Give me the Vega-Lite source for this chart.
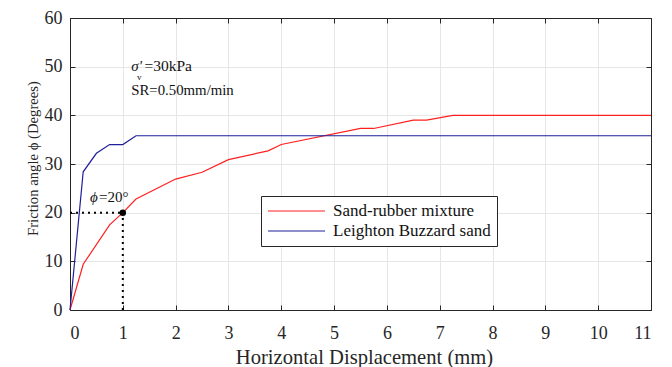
{
  "$schema": "https://vega.github.io/schema/vega-lite/v6.json",
  "width": 581,
  "height": 292,
  "autosize": {"type": "none"},
  "padding": {"left": 70, "top": 18, "right": 21, "bottom": 57},
  "background": "white",
  "config": {
    "font": "Liberation Serif",
    "view": {"stroke": "#262626", "strokeWidth": 1},
    "axis": {
      "domainColor": "#262626",
      "tickColor": "#262626",
      "labelColor": "#262626",
      "titleColor": "#262626",
      "gridColor": "#e6e6e6",
      "gridWidth": 1,
      "labelFont": "Liberation Serif",
      "titleFont": "Liberation Serif",
      "titleFontWeight": "normal",
      "labelFontSize": 18
    }
  },
  "datasets": {
    "curves": [
      {"disp": 0, "phi": 0, "series": "Sand-rubber mixture"},
      {"disp": 0.25, "phi": 9.4, "series": "Sand-rubber mixture"},
      {"disp": 0.75, "phi": 17.5, "series": "Sand-rubber mixture"},
      {"disp": 1, "phi": 20, "series": "Sand-rubber mixture"},
      {"disp": 1.25, "phi": 22.8, "series": "Sand-rubber mixture"},
      {"disp": 2, "phi": 26.9, "series": "Sand-rubber mixture"},
      {"disp": 2.5, "phi": 28.3, "series": "Sand-rubber mixture"},
      {"disp": 3, "phi": 30.9, "series": "Sand-rubber mixture"},
      {"disp": 3.75, "phi": 32.7, "series": "Sand-rubber mixture"},
      {"disp": 4, "phi": 34, "series": "Sand-rubber mixture"},
      {"disp": 5.5, "phi": 37.3, "series": "Sand-rubber mixture"},
      {"disp": 5.75, "phi": 37.3, "series": "Sand-rubber mixture"},
      {"disp": 6.5, "phi": 39, "series": "Sand-rubber mixture"},
      {"disp": 6.75, "phi": 39, "series": "Sand-rubber mixture"},
      {"disp": 7.25, "phi": 40, "series": "Sand-rubber mixture"},
      {"disp": 11, "phi": 40, "series": "Sand-rubber mixture"},
      {"disp": 0, "phi": 0, "series": "Leighton Buzzard sand"},
      {"disp": 0.25, "phi": 28.4, "series": "Leighton Buzzard sand"},
      {"disp": 0.5, "phi": 32.2, "series": "Leighton Buzzard sand"},
      {"disp": 0.75, "phi": 34, "series": "Leighton Buzzard sand"},
      {"disp": 1, "phi": 34, "series": "Leighton Buzzard sand"},
      {"disp": 1.25, "phi": 35.8, "series": "Leighton Buzzard sand"},
      {"disp": 11, "phi": 35.8, "series": "Leighton Buzzard sand"}
    ],
    "marker": [
      {"disp": 1, "phi": 20}
    ],
    "one": [{}]
  },
  "resolve": {"axis": {"x": "independent", "y": "independent"}},
  "layer": [
    {
      "data": {"name": "curves"},
      "mark": {"type": "line", "strokeWidth": 1.2},
      "encoding": {
        "x": {
          "field": "disp", "type": "quantitative",
          "scale": {"domain": [0, 11], "nice": false, "zero": false},
          "axis": {
            "orient": "bottom",
            "values": [0,1,2,3,4,5,6,7,8,9,10,11],
            "grid": true,
            "tickSize": -5,
            "labelPadding": 19,
            "labelFont": "Liberation Serif",
            "labelFontSize": 18,
            "title": "Horizontal Displacement (mm)",
            "titleFontSize": 20.6,
            "titleBaseline": "alphabetic",
            "titleAlign": "center",
            "titleX": 294,
            "titleY": 53
          }
        },
        "y": {
          "field": "phi", "type": "quantitative",
          "scale": {"domain": [0, 60], "nice": false, "zero": false},
          "axis": {
            "orient": "left",
            "values": [0,10,20,30,40,50,60],
            "grid": true,
            "tickSize": -5,
            "labelPadding": 13,
            "labelFont": "Liberation Serif",
            "labelFontSize": 18,
            "title": "Friction angle ϕ (Degrees)",
            "titleFontSize": 14.7,
            "titleAngle": 270,
            "titleBaseline": "alphabetic",
            "titleAlign": "center",
            "titleX": -33,
            "titleY": 140
          }
        },
        "color": {
          "field": "series", "type": "nominal",
          "scale": {"domain": ["Sand-rubber mixture", "Leighton Buzzard sand"], "range": ["#ff1f1f", "#1f1f9a"]},
          "legend": {
            "orient": "none",
            "legendX": 191,
            "legendY": 178,
            "title": null,
            "strokeColor": "#262626",
            "fillColor": "white",
            "padding": 6,
            "symbolType": "stroke",
            "symbolSize": 3249,
            "symbolStrokeWidth": 1.2,
            "clipHeight": 18,
            "rowPadding": 2,
            "labelFont": "Liberation Serif",
            "labelFontSize": 17,
            "labelColor": "#111111",
            "labelOffset": 7,
            "labelLimit": 300
          }
        }
      }
    },
    {
      "data": {"name": "one"},
      "mark": {"type": "rule", "strokeDash": [2, 4], "strokeWidth": 2, "color": "black"},
      "encoding": {
        "x": {"datum": 0, "type": "quantitative", "axis": null},
        "x2": {"datum": 1},
        "y": {"datum": 20, "type": "quantitative", "axis": null}
      }
    },
    {
      "data": {"name": "one"},
      "mark": {"type": "rule", "strokeDash": [2, 4], "strokeWidth": 2, "color": "black"},
      "encoding": {
        "x": {"datum": 1, "type": "quantitative", "axis": null},
        "y": {"datum": 0, "type": "quantitative", "axis": null},
        "y2": {"datum": 20}
      }
    },
    {
      "data": {"name": "marker"},
      "mark": {"type": "point", "filled": true, "color": "black", "size": 42, "opacity": 1},
      "encoding": {
        "x": {
          "field": "disp", "type": "quantitative",
          "axis": {"orient": "top", "values": [0,1,2,3,4,5,6,7,8,9,10,11], "labels": false, "grid": false, "tickSize": -5, "title": null}
        },
        "y": {
          "field": "phi", "type": "quantitative",
          "axis": {"orient": "right", "values": [0,10,20,30,40,50,60], "labels": false, "grid": false, "tickSize": -5, "title": null}
        }
      }
    },
    {
      "data": {"name": "one"},
      "mark": {"type": "text", "font": "Liberation Serif", "fontSize": 15, "fontStyle": "italic", "align": "left", "baseline": "alphabetic", "color": "#111111"},
      "encoding": {
        "x": {"datum": 0.38, "type": "quantitative", "axis": null},
        "y": {"datum": 22.2, "type": "quantitative", "axis": null},
        "text": {"value": "ϕ"}
      }
    },
    {
      "data": {"name": "one"},
      "mark": {"type": "text", "font": "Liberation Serif", "fontSize": 15, "align": "left", "baseline": "alphabetic", "color": "#111111"},
      "encoding": {
        "x": {"datum": 0.55, "type": "quantitative", "axis": null},
        "y": {"datum": 22.2, "type": "quantitative", "axis": null},
        "text": {"value": "=20°"}
      }
    },
    {
      "data": {"name": "one"},
      "mark": {"type": "text", "font": "Liberation Serif", "fontSize": 15, "fontStyle": "italic", "align": "left", "baseline": "alphabetic", "color": "#111111"},
      "encoding": {
        "x": {"datum": 1.16, "type": "quantitative", "axis": null},
        "y": {"datum": 49.2, "type": "quantitative", "axis": null},
        "text": {"value": "σ'"}
      }
    },
    {
      "data": {"name": "one"},
      "mark": {"type": "text", "font": "Liberation Serif", "fontSize": 9, "align": "left", "baseline": "alphabetic", "color": "#111111"},
      "encoding": {
        "x": {"datum": 1.27, "type": "quantitative", "axis": null},
        "y": {"datum": 47.3, "type": "quantitative", "axis": null},
        "text": {"value": "v"}
      }
    },
    {
      "data": {"name": "one"},
      "mark": {"type": "text", "font": "Liberation Serif", "fontSize": 15.5, "align": "left", "baseline": "alphabetic", "color": "#111111"},
      "encoding": {
        "x": {"datum": 1.41, "type": "quantitative", "axis": null},
        "y": {"datum": 49.2, "type": "quantitative", "axis": null},
        "text": {"value": "=30kPa"}
      }
    },
    {
      "data": {"name": "one"},
      "mark": {"type": "text", "font": "Liberation Serif", "fontSize": 14.8, "align": "left", "baseline": "alphabetic", "color": "#111111"},
      "encoding": {
        "x": {"datum": 1.16, "type": "quantitative", "axis": null},
        "y": {"datum": 44.2, "type": "quantitative", "axis": null},
        "text": {"value": "SR=0.50mm/min"}
      }
    }
  ]
}
